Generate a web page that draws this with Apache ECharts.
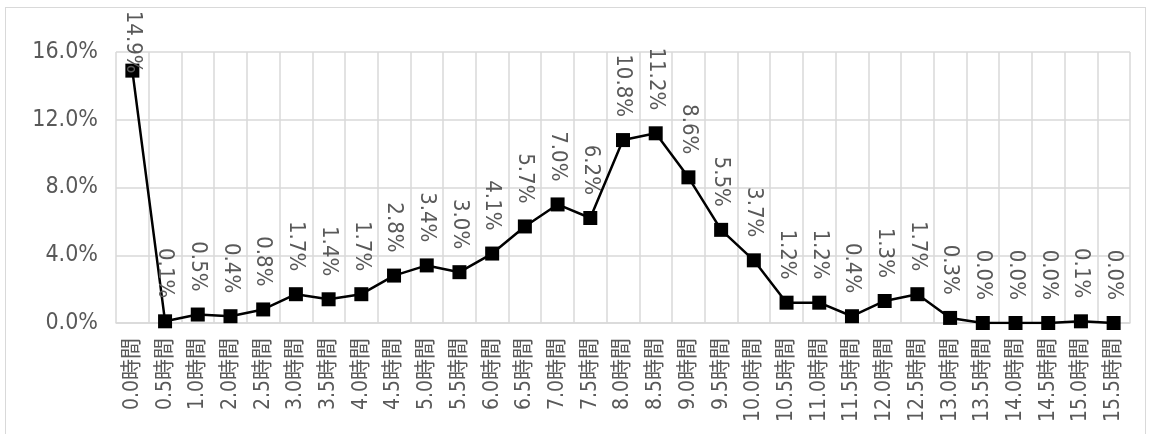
<!DOCTYPE html>
<html><head><meta charset="utf-8">
<script src="https://cdn.jsdelivr.net/npm/echarts@6/dist/echarts.min.js"></script>
<style>
html,body{margin:0;padding:0;background:#fff;}
#frame{position:absolute;left:5px;top:7px;width:1141px;height:440px;border:1.5px solid #d9d9d9;box-sizing:border-box;}
#c{position:absolute;left:0;top:0;width:1152px;height:434px;}
</style></head>
<body><div id="frame"></div><div id="c"></div>
<script>
const categories = ['0.0時間','0.5時間','1.0時間','2.0時間','2.5時間','3.0時間','3.5時間','4.0時間','4.5時間','5.0時間','5.5時間','6.0時間','6.5時間','7.0時間','7.5時間','8.0時間','8.5時間','9.0時間','9.5時間','10.0時間','10.5時間','11.0時間','11.5時間','12.0時間','12.5時間','13.0時間','13.5時間','14.0時間','14.5時間','15.0時間','15.5時間'];
const values = [14.9,0.1,0.5,0.4,0.8,1.7,1.4,1.7,2.8,3.4,3.0,4.1,5.7,7.0,6.2,10.8,11.2,8.6,5.5,3.7,1.2,1.2,0.4,1.3,1.7,0.3,0.0,0.0,0.0,0.1,0.0];
const yTicks = [0,4,8,12,16];

const FONT = "'Liberation Sans Narrow','DejaVu Sans Condensed','Noto Sans CJK JP',sans-serif";
const seriesData = values.map((v,i)=> i===0 ? {value:v,label:{distance:-10}} : v);
const chart = echarts.init(document.getElementById('c'), null, {renderer:'canvas'});
chart.setOption({
  animation:false,
  grid:{left:116,right:22,top:52,bottom:111},
  xAxis:{
    type:'category', data:categories, boundaryGap:true,
    axisLine:{show:true,lineStyle:{color:'#d9d9d9',width:1.5}},
    axisTick:{show:false},
    splitLine:{show:true,lineStyle:{color:'#d9d9d9',width:1.5}},
    axisLabel:{rotate:90,interval:0,margin:15,color:'#595959',fontSize:21,fontFamily:FONT}
  },
  yAxis:{
    type:'value', min:yTicks[0], max:yTicks[yTicks.length-1], interval:4,
    axisLine:{show:false}, axisTick:{show:false},
    splitLine:{show:true,lineStyle:{color:'#d9d9d9',width:1.5}},
    axisLabel:{margin:18,color:'#595959',fontSize:23,fontFamily:FONT,formatter:v=>v.toFixed(1)+'%'}
  },
  series:[{
    type:'line', data:seriesData,
    symbol:'rect', symbolSize:14,
    lineStyle:{color:'#000',width:2.5},
    itemStyle:{color:'#000'},
    label:{show:true,position:'top',rotate:-90,align:'right',verticalAlign:'middle',distance:16,
      color:'#595959',fontSize:22,fontFamily:FONT,formatter:p=>p.value.toFixed(1)+'%'}
  }]
});
</script></body></html>
